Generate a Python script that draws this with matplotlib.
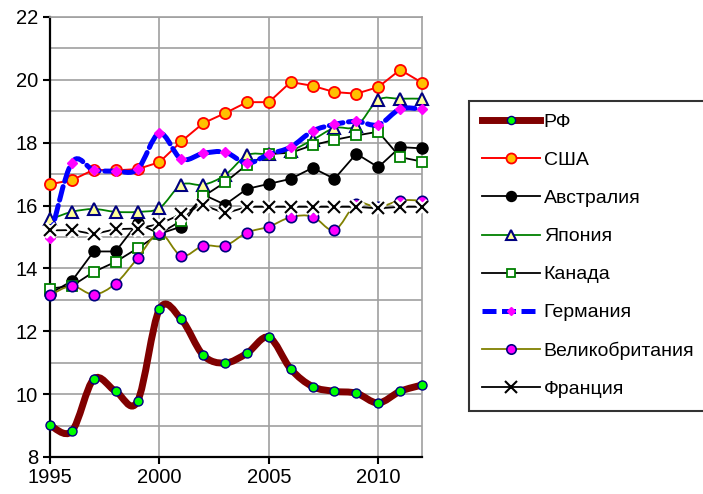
import matplotlib
matplotlib.use("Agg")
import matplotlib.pyplot as plt
from matplotlib.path import Path
from matplotlib.patches import PathPatch
from matplotlib.lines import Line2D

plt.rcParams['font.family'] = ['Liberation Sans', 'DejaVu Sans']

years = list(range(1995, 2013))

rf = [9.01, 8.82, 10.48, 10.09, 9.77, 12.70, 12.38, 11.24, 10.99, 11.30,
      11.81, 10.80, 10.24, 10.09, 10.03, 9.72, 10.09, 10.29]
usa = [16.68, 16.81, 17.14, 17.12, 17.16, 17.38, 18.04, 18.62, 18.94, 19.29,
       19.29, 19.93, 19.81, 19.61, 19.56, 19.77, 20.32, 19.91]
australia = [13.2, 13.6, 14.54, 14.54, 15.44, 15.1, 15.33, 16.35, 16.03, 16.53,
             16.69, 16.85, 17.2, 16.85, 17.65, 17.22, 17.86, 17.82]
japan = [15.56, 15.8, 15.89, 15.8, 15.8, 15.92, 16.66, 16.66, 16.97, 17.6,
         17.64, 17.75, 18.09, 18.47, 18.52, 19.36, 19.4, 19.4]
canada = [13.36, 13.44, 13.89, 14.21, 14.64, 15.1, 15.52, 16.29, 16.74, 17.3,
          17.64, 17.68, 17.92, 18.09, 18.23, 18.35, 17.54, 17.4]
germany = [14.97, 17.37, 17.13, 17.1, 17.16, 18.3, 17.48, 17.66, 17.7, 17.35,
           17.63, 17.86, 18.37, 18.58, 18.68, 18.57, 19.07, 19.07]
uk = [13.15, 13.44, 13.17, 13.52, 14.32, 15.12, 14.4, 14.72, 14.72, 15.14,
      15.33, 15.63, 15.65, 15.22, 16.05, 15.95, 16.16, 16.16]
france = [15.21, 15.22, 15.09, 15.25, 15.27, 15.41, 15.73, 16.02, 15.75, 15.96,
          15.96, 15.96, 15.96, 15.96, 15.96, 15.91, 15.96, 15.96]

labels = ['РФ', 'США', 'Австралия', 'Япония', 'Канада', 'Германия',
          'Великобритания', 'Франция']


def smooth_path(x, y):
    # Excel-like smoothed line: cubic bezier through every point
    pts = list(zip(x, y))
    n = len(pts)
    verts = [pts[0]]
    codes = [Path.MOVETO]
    for i in range(n - 1):
        p0 = pts[i - 1] if i > 0 else pts[i]
        p1 = pts[i]
        p2 = pts[i + 1]
        p3 = pts[i + 2] if i + 2 < n else pts[i + 1]
        c1 = (p1[0] + (p2[0] - p0[0]) / 6, p1[1] + (p2[1] - p0[1]) / 6)
        c2 = (p2[0] - (p3[0] - p1[0]) / 6, p2[1] - (p3[1] - p1[1]) / 6)
        verts += [c1, c2, p2]
        codes += [Path.CURVE4] * 3
    return Path(verts, codes)


fig = plt.figure(figsize=(7.03, 4.94), dpi=100)
ax = fig.add_axes([0.0711, 0.0749, 0.5292, 0.8907])

series = [
    # values, line color, lw, ls, smooth, marker, size, face, edge, mew
    (rf, '#800000', 5.0, '-', True, 'o', 6.5, '#00FF00', '#000080', 1.0),
    (usa, '#FF0000', 1.4, '-', False, 'o', 8.0, '#FFC000', '#FF0000', 1.3),
    (australia, 'black', 1.3, '-', False, 'o', 8.0, 'black', 'black', 1.0),
    (japan, '#008000', 1.3, '-', True, '^', 8.5, '#FFFF99', '#000080', 1.5),
    (canada, 'black', 1.3, '-', False, 's', 7.0, 'white', '#008000', 1.3),
    (germany, '#0000FF', 3.6, (0, (2.8, 1.1)), True, 'D', 5.0, '#FF00FF', '#FF00FF', 1.0),
    (uk, '#808000', 1.3, '-', True, 'o', 7.5, '#FF00FF', '#000080', 1.2),
    (france, 'black', 1.3, '-', False, 'x', 9.0, 'black', 'black', 1.5),
]

handles = []
for z, (vals, lc, lw, ls, smooth, mk, ms, mfc, mec, mew) in enumerate(series):
    zo = 3 + z
    if smooth:
        ax.add_patch(PathPatch(smooth_path(years, vals), fill=False, edgecolor=lc,
                               lw=lw, ls=ls, zorder=zo, capstyle='round'))
    else:
        ax.plot(years, vals, color=lc, lw=lw, ls=ls, zorder=zo)
    if mk == 'x':
        ax.plot(years, vals, ls='none', marker=mk, ms=ms, mew=5, color='white',
                zorder=zo + 0.1, clip_on=False)
    ax.plot(years, vals, ls='none', marker=mk, ms=ms, mfc=mfc, mec=mec, mew=mew,
            zorder=zo + 0.2, clip_on=False)
    handles.append(Line2D([0], [0], color=lc, lw=lw, ls=ls, marker=mk, ms=ms * 0.9,
                          mfc=mfc, mec=mec, mew=mew))

ax.set_xlim(1995, 2012)
ax.set_ylim(8, 22)
ax.set_xticks([1995, 2000, 2005, 2010])
ax.set_yticks(range(8, 23, 2))
ax.set_yticks(range(9, 22, 2), minor=True)
ax.grid(True, which='both', axis='y', color='#A0A0A0', lw=1.2, zorder=1)
ax.grid(True, which='major', axis='x', color='#A0A0A0', lw=1.2, zorder=1)
ax.tick_params(axis='both', which='major', labelsize=14.5, length=5, width=1.5,
               direction='out', colors='black')
ax.tick_params(axis='y', which='minor', length=0)
ax.tick_params(axis='x', pad=3)

for side in ['left', 'bottom']:
    ax.spines[side].set_color('black')
    ax.spines[side].set_linewidth(1.6)
for side in ['top', 'right']:
    ax.spines[side].set_color('#A0A0A0')
    ax.spines[side].set_linewidth(1.2)

leg = fig.legend(handles, labels, loc='upper left',
                 bbox_to_anchor=(469 / 703, 1 - 101 / 494), fontsize=14,
                 handlelength=3.0, handletextpad=0.2, labelspacing=1.05,
                 borderpad=0.65, borderaxespad=0, fancybox=False, frameon=True)
leg.get_frame().set_edgecolor('black')
leg.get_frame().set_linewidth(1.5)

fig.savefig('out.png', dpi=100)
